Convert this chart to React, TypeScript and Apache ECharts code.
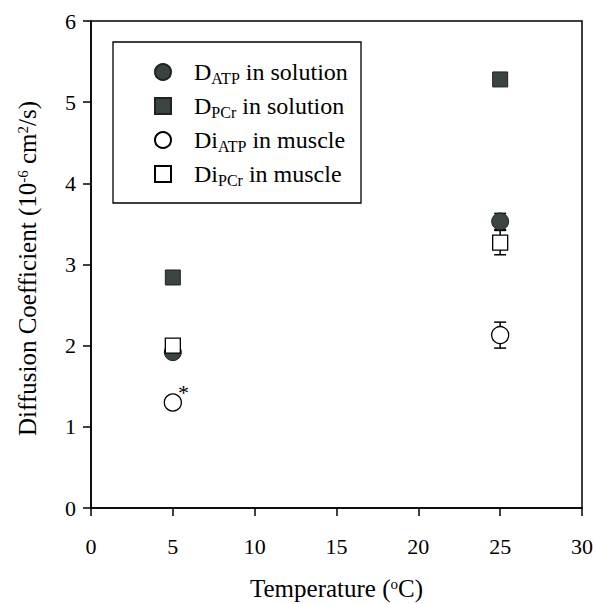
import React, { useEffect, useRef } from "react";
import * as echarts from "echarts";

const temps = [5, 25];
const dATP = [1.92, 3.53];
const dATPErr = [0.03, 0.1];
const dPCr = [2.84, 5.28];
const dPCrErr = [0, 0];
const diATP = [1.3, 2.13];
const diATPErr = [0.03, 0.16];
const diPCr = [2.0, 3.27];
const diPCrErr = [0.04, 0.15];

const xTicks = [0, 5, 10, 15, 20, 25, 30];
const yTicks = [0, 1, 2, 3, 4, 5, 6];

const seriesNames = ["DATP in solution", "DPCr in solution", "DiATP in muscle", "DiPCr in muscle"];
const legendRich = [
  "{sp|}{t|D}{s|ATP}{t| in solution}",
  "{sp|}{t|D}{s|PCr}{t| in solution}",
  "{sp|}{t|Di}{s|ATP}{t| in muscle}",
  "{sp|}{t|Di}{s|PCr}{t| in muscle}",
];

const FONT = "'Liberation Serif', 'Times New Roman', serif";
const FILL = "#3a4540";

export default function App() {
  const ref = useRef<HTMLDivElement>(null);
  useEffect(() => {
    if (!ref.current) return;
    const chart = echarts.init(ref.current, null, { renderer: "svg" });
    const errData = [
      ...temps.map((t, i) => [t, dATP[i], dATPErr[i]]),
      ...temps.map((t, i) => [t, dPCr[i], dPCrErr[i]]),
      ...temps.map((t, i) => [t, diATP[i], diATPErr[i]]),
      ...temps.map((t, i) => [t, diPCr[i], diPCrErr[i]]),
    ];
    const lineStyle = { stroke: "#000", lineWidth: 1.5 };
    const sup = { fontFamily: FONT, fontSize: 15, verticalAlign: "top", lineHeight: 15, color: "#000" };
    chart.setOption({
      animation: false,
      backgroundColor: "#fff",
      textStyle: { fontFamily: FONT },
      grid: {
        left: 91,
        top: 21,
        right: 11,
        bottom: 96,
        show: true,
        borderColor: "#000",
        borderWidth: 1.5,
        containLabel: false,
        outerBoundsMode: "none",
      },
      xAxis: {
        type: "value",
        min: 0,
        max: 30,
        interval: 5,
        name: "Temperature ({p|o}C)",
        nameLocation: "middle",
        nameGap: 68,
        nameTextStyle: { fontFamily: FONT, fontSize: 25, color: "#000", rich: { p: sup } },
        axisLine: { lineStyle: { color: "#000", width: 1.5 } },
        axisTick: { length: 8, lineStyle: { color: "#000", width: 1.5 } },
        axisLabel: { fontFamily: FONT, fontSize: 22, color: "#000", margin: 27, formatter: (v: number) => (xTicks.includes(v) ? String(v) : "") },
        splitLine: { show: false },
      },
      yAxis: {
        type: "value",
        min: 0,
        max: 6,
        interval: 1,
        name: "Diffusion Coefficient (10{p|-6} cm{p|2}/s)",
        nameLocation: "middle",
        nameGap: 51,
        nameTextStyle: { fontFamily: FONT, fontSize: 25, color: "#000", padding: [0, 8, 0, 0], rich: { p: sup } },
        axisLine: { lineStyle: { color: "#000", width: 1.5 } },
        axisTick: { length: 8, lineStyle: { color: "#000", width: 1.5 } },
        axisLabel: { fontFamily: FONT, fontSize: 22, color: "#000", margin: 15, formatter: (v: number) => (yTicks.includes(v) ? String(v) : "") },
        splitLine: { show: false },
      },
      legend: {
        orient: "vertical",
        left: 149,
        top: 55,
        itemWidth: 16,
        itemHeight: 16,
        itemGap: 8,
        selectedMode: false,
        data: seriesNames,
        formatter: (name: string) => legendRich[seriesNames.indexOf(name)],
        textStyle: {
          fontFamily: FONT,
          fontSize: 24,
          color: "#000",
          rich: {
            sp: { width: 18 },
            t: { fontFamily: FONT, fontSize: 24, color: "#000", lineHeight: 28 },
            s: { fontFamily: FONT, fontSize: 16, color: "#000", lineHeight: 12, verticalAlign: "bottom" },
          },
        },
      },
      graphic: [
        {
          type: "rect",
          shape: { x: 113, y: 42, width: 248, height: 161 },
          style: { fill: "none", stroke: "#000", lineWidth: 1.3 },
          z: 10,
        },
      ],
      series: [
        {
          type: "custom",
          name: "errors",
          data: errData,
          z: 1,
          renderItem: (params: any, api: any) => {
            const x = api.value(0);
            const y = api.value(1);
            const e = api.value(2);
            if (!e) return null;
            const top = api.coord([x, y + e]);
            const bot = api.coord([x, y - e]);
            const w = 6;
            return {
              type: "group",
              children: [
                { type: "line", shape: { x1: top[0], y1: top[1], x2: bot[0], y2: bot[1] }, style: lineStyle },
                { type: "line", shape: { x1: top[0] - w, y1: top[1], x2: top[0] + w, y2: top[1] }, style: lineStyle },
                { type: "line", shape: { x1: bot[0] - w, y1: bot[1], x2: bot[0] + w, y2: bot[1] }, style: lineStyle },
              ],
            };
          },
        },
        {
          type: "scatter",
          name: seriesNames[0],
          symbol: "circle",
          symbolSize: 17,
          z: 2,
          itemStyle: { color: FILL, borderColor: "#222", borderWidth: 1, opacity: 1 },
          data: temps.map((t, i) => [t, dATP[i]]),
        },
        {
          type: "scatter",
          name: seriesNames[1],
          symbol: "rect",
          symbolSize: 15,
          z: 2,
          itemStyle: { color: FILL, borderColor: "#222", borderWidth: 1, opacity: 1 },
          data: temps.map((t, i) => [t, dPCr[i]]),
        },
        {
          type: "scatter",
          name: seriesNames[2],
          symbol: "circle",
          symbolSize: 17,
          z: 2,
          itemStyle: { color: "#fff", borderColor: "#000", borderWidth: 1.3, opacity: 1 },
          data: temps.map((t, i) =>
            i === 0
              ? {
                  value: [t, diATP[i]],
                  label: { show: true, formatter: "*", position: "right", offset: [-9, -10], fontFamily: FONT, fontSize: 22, color: "#000" },
                }
              : [t, diATP[i]]
          ),
        },
        {
          type: "scatter",
          name: seriesNames[3],
          symbol: "rect",
          symbolSize: 15,
          z: 2,
          itemStyle: { color: "#fff", borderColor: "#000", borderWidth: 1.3, opacity: 1 },
          data: temps.map((t, i) => [t, diPCr[i]]),
        },
      ],
    });
    return () => chart.dispose();
  }, []);
  return <div ref={ref} style={{ position: "fixed", left: 0, top: 0, width: 593, height: 604 }} />;
}
